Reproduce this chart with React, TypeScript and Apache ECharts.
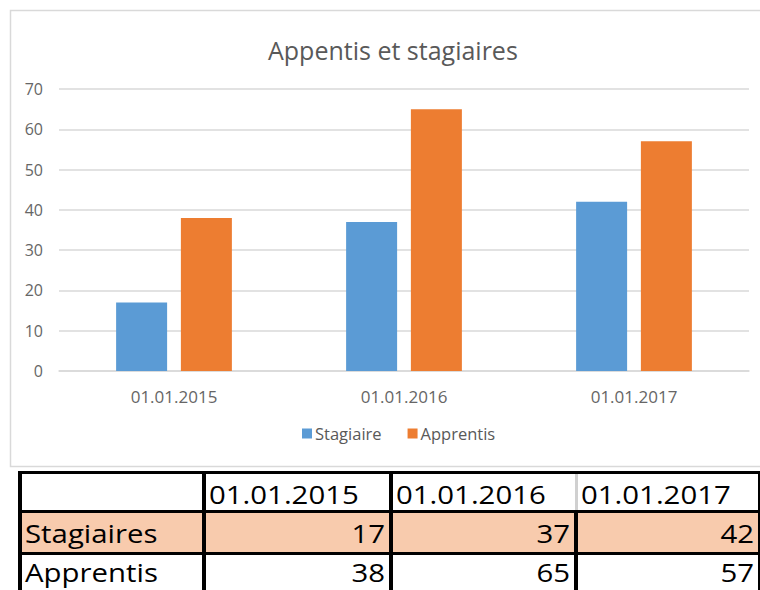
import React, { useEffect, useRef } from "react";
import * as echarts from "echarts";

const categories = ["01.01.2015", "01.01.2016", "01.01.2017"];
const stagiaireValues = [17, 37, 42];
const apprentisValues = [38, 65, 57];
const seriesNames = ["Stagiaire", "Apprentis"];
const tableRowLabels = ["Stagiaires", "Apprentis"];
const chartTitle = "Appentis et stagiaires";

const FONT = "'Open Sans', sans-serif";

function buildTable(): any[] {
  const els: any[] = [];
  const colLeft = [22, 206, 393, 578];
  const colRight = [202, 389, 574, 758];
  const rowCenter = [494, 533, 572];
  // salmon row
  els.push({ type: "rect", shape: { x: 22, y: 513, width: 736, height: 39 }, style: { fill: "#F8CBAD" }, silent: true });
  // borders
  const black = { fill: "#000" };
  els.push({ type: "rect", shape: { x: 18, y: 471, width: 742, height: 3 }, style: black, silent: true });
  els.push({ type: "rect", shape: { x: 18, y: 510, width: 742, height: 3 }, style: black, silent: true });
  els.push({ type: "rect", shape: { x: 18, y: 552, width: 742, height: 3 }, style: black, silent: true });
  els.push({ type: "rect", shape: { x: 18, y: 471, width: 4, height: 119 }, style: black, silent: true });
  els.push({ type: "rect", shape: { x: 202, y: 471, width: 4, height: 119 }, style: black, silent: true });
  els.push({ type: "rect", shape: { x: 389, y: 471, width: 4, height: 119 }, style: black, silent: true });
  els.push({ type: "rect", shape: { x: 575, y: 474, width: 3, height: 36 }, style: { fill: "#D0D0D0" }, silent: true });
  els.push({ type: "rect", shape: { x: 574, y: 510, width: 4, height: 80 }, style: black, silent: true });
  els.push({ type: "rect", shape: { x: 758, y: 471, width: 3, height: 119 }, style: black, silent: true });

  const txt = (text: string, x: number, y: number, align: string) => ({
    type: "text",
    x,
    y,
    scaleX: 1.13,
    silent: true,
    style: {
      text,
      fill: "#000",
      fontFamily: FONT,
      fontSize: 26,
      align,
      verticalAlign: "middle",
    },
  });
  categories.forEach((c, i) => els.push(txt(c, colLeft[i + 1] + 3, rowCenter[0], "left")));
  els.push(txt(tableRowLabels[0], 25, rowCenter[1], "left"));
  els.push(txt(tableRowLabels[1], 25, rowCenter[2], "left"));
  stagiaireValues.forEach((v, i) => els.push(txt(String(v), colRight[i + 1] - 4, rowCenter[1], "right")));
  apprentisValues.forEach((v, i) => els.push(txt(String(v), colRight[i + 1] - 4, rowCenter[2], "right")));
  return els;
}

export default function App() {
  const ref = useRef<HTMLDivElement>(null);
  useEffect(() => {
    if (!ref.current) return;
    const chart = echarts.init(ref.current, null, { renderer: "svg" });
    chart.setOption({
      animation: false,
      backgroundColor: "#fff",
      color: ["#5B9BD5", "#ED7D31"],
      title: {
        text: chartTitle,
        left: 263,
        top: 32,
        textStyle: { fontFamily: FONT, fontSize: 25, fontWeight: "normal", color: "#595959" },
      },
      legend: {
        bottom: 590 - 447,
        left: 297,
        itemWidth: 10,
        itemHeight: 10,
        itemGap: 26,
        icon: "rect",
        textStyle: { fontFamily: FONT, fontSize: 16.5, color: "#595959", padding: [0, 0, 0, -2] },
        data: seriesNames,
      },
      grid: { left: 59, top: 89, width: 690, height: 282, containLabel: false },
      xAxis: {
        type: "category",
        data: categories,
        axisLine: { lineStyle: { color: "#D9D9D9", width: 1.5 } },
        axisTick: { show: false },
        axisLabel: { margin: 17, fontFamily: FONT, fontSize: 17, color: "#666666" },
      },
      yAxis: {
        type: "value",
        min: 0,
        max: 70,
        interval: 10,
        axisLine: { show: false },
        axisTick: { show: false },
        splitLine: { lineStyle: { color: "#D9D9D9", width: 1.5 } },
        axisLabel: { margin: 16, fontFamily: FONT, fontSize: 16, color: "#666666" },
      },
      series: [
        { name: seriesNames[0], type: "bar", data: stagiaireValues, barWidth: 51, barGap: "27%" },
        { name: seriesNames[1], type: "bar", data: apprentisValues, barWidth: 51, barGap: "27%" },
      ],
      graphic: [
        {
          type: "rect",
          silent: true,
          z: -10,
          shape: { x: 10.5, y: 10.5, width: 760, height: 456 },
          style: { fill: "none", stroke: "#D9D9D9", lineWidth: 1.5 },
        },
        ...buildTable(),
      ],
    });
    return () => chart.dispose();
  }, []);
  return (
    <div
      ref={ref}
      style={{ position: "absolute", left: 0, top: 0, width: 760, height: 590, background: "#fff" }}
    />
  );
}
